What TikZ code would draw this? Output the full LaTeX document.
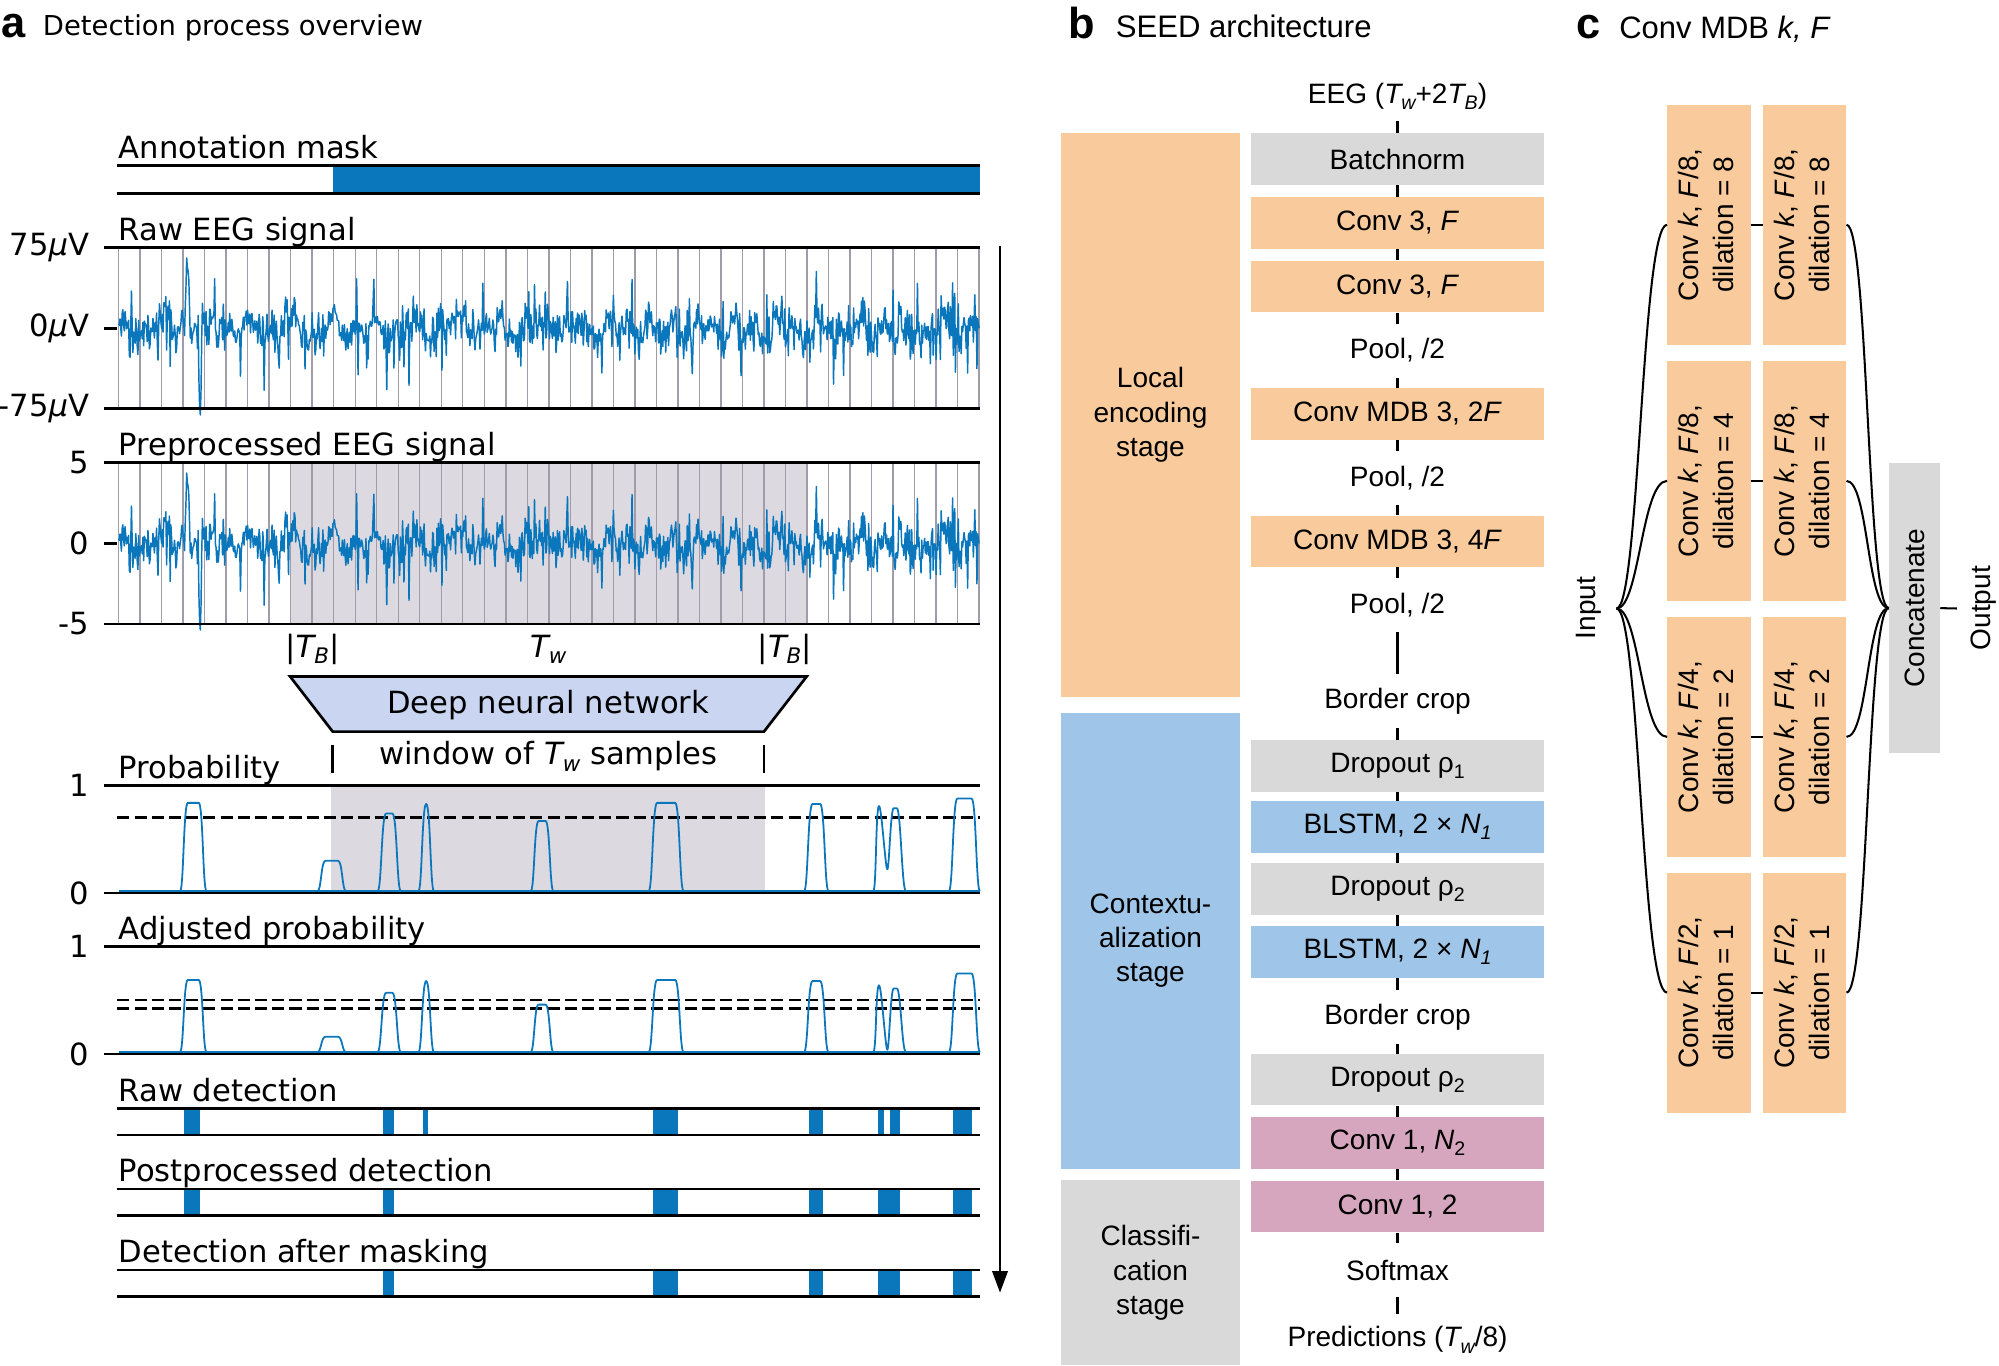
\documentclass[tikz,border=0pt]{standalone}
\usepackage{fontspec}
\usepackage{graphicx}
\setmainfont{DejaVu Sans}
\newfontfamily\arialf{Liberation Sans}
\usetikzlibrary{arrows.meta}
\definecolor{eegblue}{HTML}{0A77BD}
\definecolor{winshade}{HTML}{DCD9E1}
\definecolor{vgrid}{HTML}{A09CAA}
\definecolor{dnnblue}{HTML}{C9D5F1}
\definecolor{orng}{HTML}{F9CB9C}
\definecolor{lblue}{HTML}{9FC5E8}
\definecolor{lgray}{HTML}{D9D9D9}
\definecolor{pnk}{HTML}{D5A6BD}
\newcommand\lo[1]{\raisebox{-0.22em}{\scalebox{0.7}{#1}}}
\newcommand\eegsig[1]{%
  \pgfmathsetseed{4711}%
  \draw[sig] plot[domain=0:675, samples=1201, variable=\t] ({\t+93}, {#1 - (8.5*(rand+rand)*(0.65+0.6*abs(sin(\t*1.9))) + 5*sin(\t*11.3) + 5*sin(\t*21.7+40) + 36*spk(rand) + 55*trg((\t-54)/2.5) - 65*trg((\t-64)/2) - 38*trg((\t-450)/2))});%
}
\newcommand\pk[5]{%
  \pgfmathsetmacro\pkL{#2-#3}\pgfmathsetmacro\pkR{#2+#3}%
  \pgfmathsetmacro\pkT{#1-84.1*#4}\pgfmathsetmacro\pkB{#1-1.6}%
  \draw[pksig] (\pkL,\pkB) .. controls ({\pkL+0.45*#5},\pkB) and ({\pkL+0.45*#5},\pkT) .. ({\pkL+#5},\pkT) -- ({\pkR-#5},\pkT) .. controls ({\pkR-0.45*#5},\pkT) and ({\pkR-0.45*#5},\pkB) .. (\pkR,\pkB);%
}
\newcommand\dpk[4]{%
  \pgfmathsetmacro\dpB{#1-1.6}\pgfmathsetmacro\dpTa{#1-84.1*#2}%
  \pgfmathsetmacro\dpTb{#1-84.1*#3}\pgfmathsetmacro\dpTd{#1-84.1*#4}%
  \draw[pksig] (685,\dpB) .. controls (687.5,\dpB) and (686.8,\dpTa) .. (689.5,\dpTa) .. controls (691.5,\dpTa) and (694.5,\dpTd) .. (696,\dpTd) .. controls (697.5,\dpTd) and (698.5,\dpTb) .. (701,\dpTb) -- (703.5,\dpTb) .. controls (706.5,\dpTb) and (707.5,\dpB) .. (710.5,\dpB);%
}
\begin{document}
\begin{tikzpicture}[x=1pt,y=-1pt,
  declare function={spk(\r)=\r*\r*\r*\r*\r*\r*\r*\r*\r; trg(\a)=max(0,1-abs(\a));},
  ax/.style={line width=2.1pt, black},
  grd/.style={line width=1.1pt, vgrid},
  sig/.style={line width=1.15pt, eegblue, line join=round},
  pksig/.style={line width=1.4pt, eegblue, line join=round},
  thr/.style={line width=2.1pt, black, dash pattern=on 9.5pt off 4pt},
  afont/.style={font=\fontsize{24}{28}\selectfont},
  lbl/.style={afont, anchor=base west, inner sep=0pt},
  tck/.style={afont, anchor=east, inner sep=0pt},
  mid/.style={afont, anchor=base, inner sep=0pt},
  ttl/.style={anchor=base west, inner sep=0pt},
  letter/.style={ttl, font=\arialf\bfseries\fontsize{34}{38}\selectfont},
  bfont/.style={font=\arialf\fontsize{22}{27}\selectfont},
  blk/.style={bfont, minimum width=229.6pt, minimum height=40.5pt, inner sep=0pt},
  btxt/.style={bfont, fill=white, minimum height=42pt, inner sep=0pt},
  stage/.style={bfont, minimum width=139.9pt, inner sep=0pt, align=center},
  bline/.style={line width=2.2pt, black},
  cfont/.style={font=\arialf\fontsize{22}{27.5}\selectfont},
  cblk/.style={cfont, fill=orng, minimum width=65.4pt, minimum height=188.4pt, inner sep=0pt},
  cline/.style={line width=1.6pt, black}
]
\useasboundingbox (0,0) rectangle (1568,1070.7);

% ---------------- Panel a ----------------
\node[letter] (la) at (1,29.5) {a};
\node[ttl, font=\fontsize{21.5}{25}\selectfont] (ta) at (33.5,28) {Detection process overview};

% Annotation mask
\fill[eegblue] (261,130) rectangle (768.7,151.6);
\draw[ax] (91.5,130) -- (768.7,130);
\draw[ax] (91.5,151.6) -- (768.7,151.6);
\node[lbl] (lann) at (93,124.5) {Annotation mask};

% Raw EEG
\foreach \i in {0,...,40} \draw[grd] ({93+\i*16.875},194) -- ({93+\i*16.875},320.3);
\eegsig{257.5}
\draw[ax] (81.6,194) -- (768.7,194);
\draw[ax] (81.6,320.3) -- (768.7,320.3);
\draw[ax] (81.6,257.5) -- (92,257.5);
\node[lbl] (lraw) at (93,188.5) {Raw EEG signal};
\node[tck] (t75) at (70,194) {75{\itshape μ}V};
\node[tck] (t0) at (70,257.5) {0{\itshape μ}V};
\node[tck] (tm75) at (70,320.3) {-75{\itshape μ}V};

% Preprocessed EEG
\fill[winshade] (227.6,362.9) rectangle (632.7,489.5);
\foreach \i in {0,...,40} \draw[grd] ({93+\i*16.875},362.9) -- ({93+\i*16.875},489.5);
\eegsig{426.2}
\draw[ax] (81.6,362.9) -- (768.7,362.9);
\draw[ax] (81.6,489.5) -- (768.7,489.5);
\draw[ax] (81.6,426.2) -- (92,426.2);
\node[lbl] (lpre) at (93,357.4) {Preprocessed EEG signal};
\node[tck] (p5) at (70,362.9) {5};
\node[tck] (p0) at (70,426.2) {0};
\node[tck] (pm5) at (70,489.5) {-5};

% window labels
\node[mid] (tb1) at (245,515.5) {|{\itshape T}\lo{\itshape B}|};
\node[mid] (tw) at (430,515.5) {{\itshape T}\lo{\itshape w}};
\node[mid] (tb2) at (615.5,515.5) {|{\itshape T}\lo{\itshape B}|};

% DNN
\draw[line width=2.1pt, fill=dnnblue] (227.6,530.7) -- (632.7,530.7) -- (599.2,573.9) -- (261,573.9) -- cycle;
\node[mid] (dnn) at (430,560) {Deep neural network};
\draw[line width=2.1pt] (261,584.4) -- (261,606.4);
\draw[line width=2.1pt] (599.2,584.4) -- (599.2,606.4);
\node[mid] (win) at (430,599.5) {window of {\itshape T}\lo{\itshape w} samples};

% Probability
\fill[winshade] (259.7,616.3) rectangle (600.4,700.4);
\draw[thr] (92,641.4) -- (768.7,641.4);
\draw[pksig] (93,698.8) -- (768.7,698.8);
\pk{700.4}{151.6}{10.3}{0.84}{6}
\pk{700.4}{260.2}{11}{0.30}{6}
\pk{700.4}{305.3}{9}{0.74}{6.5}
\pk{700.4}{334.3}{6}{0.83}{6}
\pk{700.4}{425.2}{8.8}{0.67}{6}
\pk{700.4}{522.5}{13.6}{0.84}{6.5}
\pk{700.4}{640.3}{9.5}{0.83}{6.5}
\dpk{700.4}{0.81}{0.79}{0.22}
\pk{700.4}{756.5}{12.1}{0.88}{6.5}
\draw[ax] (81.6,616.3) -- (768.7,616.3);
\draw[ax] (81.6,700.4) -- (768.7,700.4);
\node[lbl] (lprob) at (93,610.8) {Probability};
\node[tck] (q1) at (70,616.3) {1};
\node[tck] (q0) at (70,700.4) {0};

% Adjusted probability
\draw[thr] (92,784.4) -- (768.7,784.4);
\draw[thr] (92,790.9) -- (768.7,790.9);
\draw[pksig] (93,825.1) -- (768.7,825.1);
\pk{826.7}{151.6}{10.3}{0.69}{6}
\pk{826.7}{260.2}{11}{0.16}{6}
\pk{826.7}{305.3}{9}{0.57}{6.5}
\pk{826.7}{334.3}{6}{0.68}{6}
\pk{826.7}{425.2}{8.8}{0.46}{6}
\pk{826.7}{522.5}{13.6}{0.69}{6.5}
\pk{826.7}{640.3}{9.5}{0.68}{6.5}
\dpk{826.7}{0.64}{0.61}{0.04}
\pk{826.7}{756.5}{12.1}{0.75}{6.5}
\draw[ax] (81.6,742.5) -- (768.7,742.5);
\draw[ax] (81.6,826.7) -- (768.7,826.7);
\node[lbl] (ladj) at (93,737) {Adjusted probability};
\node[tck] (r1) at (70,742.5) {1};
\node[tck] (r0) at (70,826.7) {0};

% Raw detection
\foreach \a/\b in {144.4/156.7, 300.2/309.4, 331.9/335.8, 512.3/531.8, 634.2/645.3, 688.4/693.7, 698/706, 747.5/762.8}
  \fill[eegblue] (\a,869.3) rectangle (\b,890.3);
\draw[ax] (91.5,869.3) -- (768.7,869.3);
\draw[ax] (91.5,890.3) -- (768.7,890.3);
\node[lbl] (ldet) at (93,863.8) {Raw detection};

% Postprocessed detection
\foreach \a/\b in {144.4/156.7, 300.2/309.4, 512.3/531.8, 634.2/645.3, 688.4/706, 747.5/762.8}
  \fill[eegblue] (\a,932.6) rectangle (\b,953.5);
\draw[ax] (91.5,932.6) -- (768.7,932.6);
\draw[ax] (91.5,953.5) -- (768.7,953.5);
\node[lbl] (lpost) at (93,927) {Postprocessed detection};

% Detection after masking
\foreach \a/\b in {300.2/309.4, 512.3/531.8, 634.2/645.3, 688.4/706, 747.5/762.8}
  \fill[eegblue] (\a,996.1) rectangle (\b,1017);
\draw[ax] (91.5,996.1) -- (768.7,996.1);
\draw[ax] (91.5,1017) -- (768.7,1017);
\node[lbl] (lmask) at (93,990.6) {Detection after masking};

% process arrow
\coordinate (arrA) at (784.4,193);
\coordinate (arrB) at (784.4,1014);
\draw[line width=2.2pt, -{Triangle[length=17pt,width=12pt]}] (arrA) -- (arrB);

% ---------------- Panel b ----------------
\node[letter] (lb) at (838,30) {b};
\node[ttl, font=\arialf\fontsize{24.4}{28}\selectfont] (tbt) at (875,29.8) {SEED architecture};

\node[stage, fill=orng, minimum height=442.3pt] (sloc) at (902.45,325.55) {Local\\encoding\\stage};
\node[stage, fill=lblue, minimum height=357.7pt] (sctx) at (902.45,737.75) {Contextu-\\alization\\stage};
\node[stage, fill=lgray, minimum height=145.2pt] (scls) at (902.45,998.4) {Classifi-\\cation\\stage};

\node[btxt, minimum height=38.6pt] (eeg) at (1096.2,75.3) {EEG ({\itshape T}\lo{\itshape w}+2{\itshape T}\lo{\itshape B})};
\node[blk, fill=lgray] (bn) at (1096.2,124.8) {Batchnorm};
\node[blk, fill=orng] (cv1) at (1096.2,174.7) {Conv 3, \textit{F}};
\node[blk, fill=orng] (cv2) at (1096.2,224.7) {Conv 3, \textit{F}};
\node[btxt] (pl1) at (1096.2,275) {Pool, /2};
\node[blk, fill=orng] (md1) at (1096.2,324.7) {Conv MDB 3, 2\textit{F}};
\node[btxt] (pl2) at (1096.2,374.9) {Pool, /2};
\node[blk, fill=orng] (md2) at (1096.2,424.6) {Conv MDB 3, 4\textit{F}};
\node[btxt] (pl3) at (1096.2,474.7) {Pool, /2};
\node[btxt] (bc1) at (1096.2,550.1) {Border crop};
\node[blk, fill=lgray] (do1) at (1096.2,600.7) {Dropout ρ\lo{1}};
\node[blk, fill=lblue] (ls1) at (1096.2,648.5) {BLSTM, 2 × \textit{N}\lo{\textit{1}}};
\node[blk, fill=lgray] (do2) at (1096.2,697.1) {Dropout ρ\lo{2}};
\node[blk, fill=lblue] (ls2) at (1096.2,746.7) {BLSTM, 2 × \textit{N}\lo{\textit{1}}};
\node[btxt] (bc2) at (1096.2,797.9) {Border crop};
\node[blk, fill=lgray] (do3) at (1096.2,846.8) {Dropout ρ\lo{2}};
\node[blk, fill=pnk] (cn1) at (1096.2,896.6) {Conv 1, \textit{N}\lo{2}};
\node[blk, fill=pnk] (cn2) at (1096.2,946.4) {Conv 1, 2};
\node[btxt] (smx) at (1096.2,996.2) {Softmax};
\node[btxt, minimum height=40.8pt] (prd) at (1096.2,1050.9) {Predictions ({\itshape T}\lo{\itshape w}/8)};
\foreach \a/\b in {eeg/bn, bn/cv1, cv1/cv2, cv2/pl1, pl1/md1, md1/pl2, pl2/md2, md2/pl3, pl3/bc1, bc1/do1, do1/ls1, ls1/do2, do2/ls2, ls2/bc2, bc2/do3, do3/cn1, cn1/cn2, cn2/smx, smx/prd}
  \draw[bline] (\a.south) -- (\b.north);

% ---------------- Panel c ----------------
\node[letter] (lc) at (1236,30) {c};
\node[ttl, font=\arialf\fontsize{24.3}{28}\selectfont] (tct) at (1270,30) {Conv MDB \textit{k, F}};

\foreach \r/\yy/\ff/\dd in {1/176.3/8/8, 2/377.2/8/4, 3/578/4/2, 4/778.6/2/1} {
  \node[cblk] (a\r) at (1340.5,\yy) {\rotatebox{90}{\begin{tabular}{@{}c@{}}Conv \textit{k}, \textit{F}/\ff,\\dilation = \dd\end{tabular}}};
  \node[cblk] (b\r) at (1415.5,\yy) {\rotatebox{90}{\begin{tabular}{@{}c@{}}Conv \textit{k}, \textit{F}/\ff,\\dilation = \dd\end{tabular}}};
}
\node[cfont, fill=lgray, minimum width=40pt, minimum height=228pt, inner sep=0pt] (cat) at (1501.7,477) {\rotatebox{90}{Concatenate}};
\node[cfont, inner sep=0pt] (inl) at (1246,477) {\rotatebox{90}{Input}};
\node[cfont, inner sep=0pt] (outl) at (1556,477) {\rotatebox{90}{Output}};
\coordinate (inp) at (1268,477.3);
\coordinate (outp) at (1535,477.3);
\foreach \r in {1,2,3,4} {
  \draw[cline] (inp) .. controls +(18,0) and +(-20,0) .. (a\r.west);
  \draw[cline] (a\r.east) -- (b\r.west);
  \draw[cline] (b\r.east) .. controls +(17,0) and +(-17,0) .. (cat.west);
}
\draw[cline] (cat.east) -- (outp);
\end{tikzpicture}
\end{document}
